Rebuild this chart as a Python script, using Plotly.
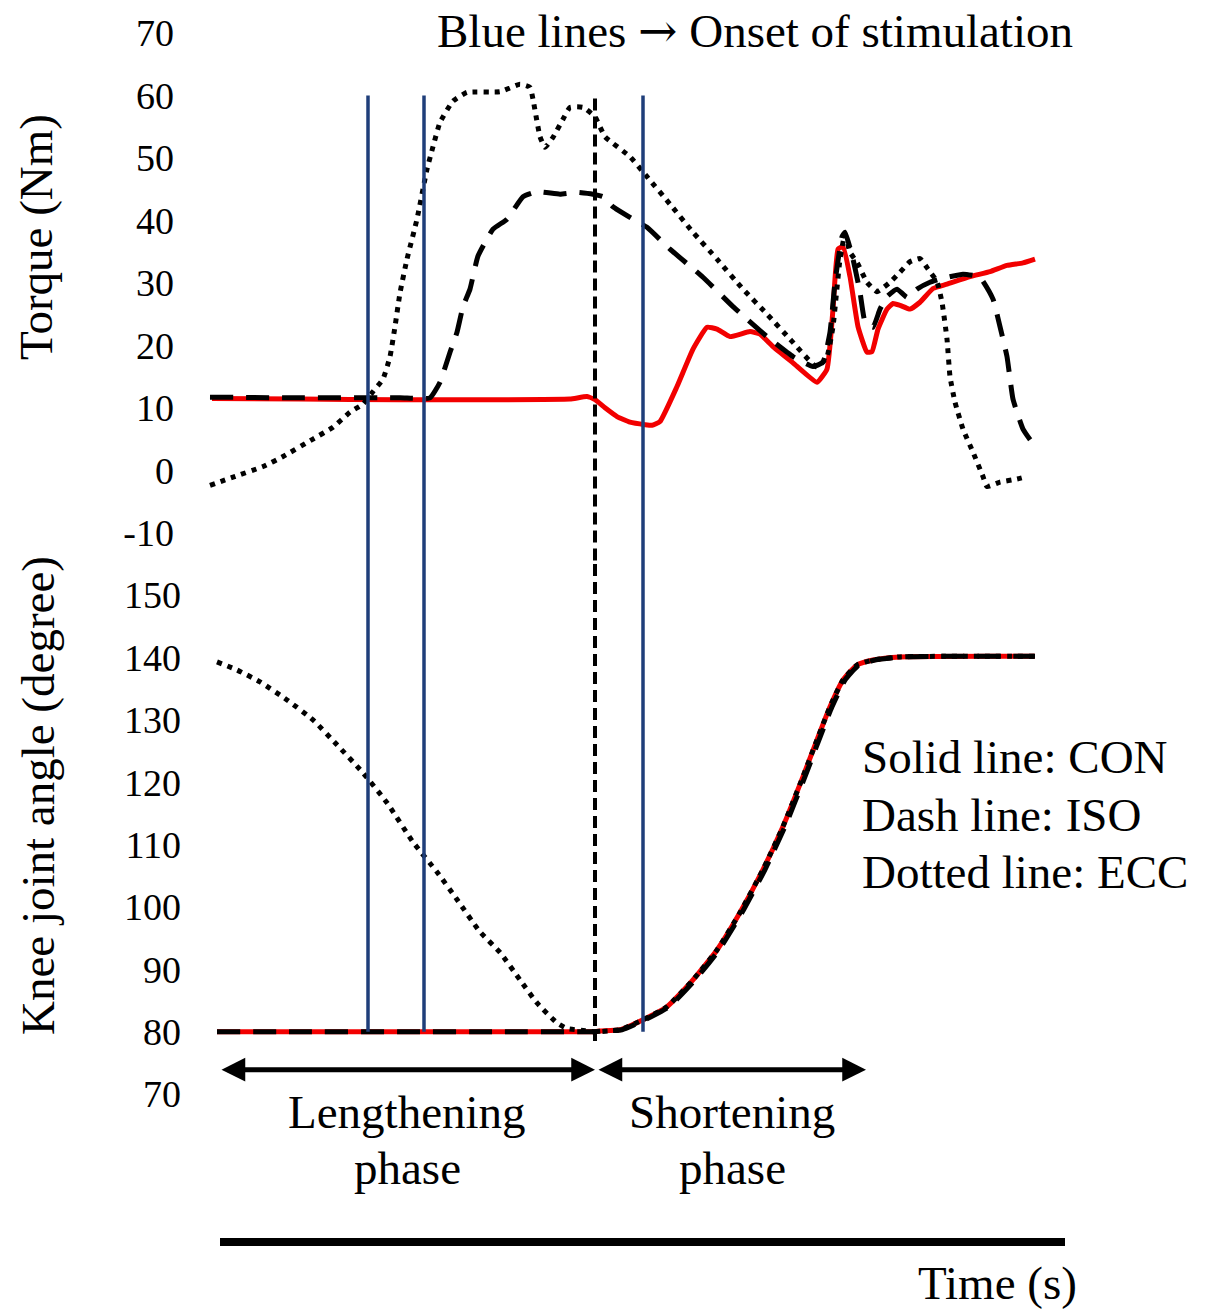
import plotly.graph_objects as go

# ---------------- data (time in s, torque in Nm, angle in degrees) ----------------
t_torque_con = [0.12, 1.0, 2.0, 3.0, 3.7, 3.87, 3.95, 4.05, 4.17, 4.30, 4.45, 4.52, 4.60,
                4.77, 4.93, 5.07, 5.17, 5.30, 5.50, 5.60, 5.73, 5.93, 6.17, 6.27, 6.33,
                6.38, 6.43, 6.50, 6.58, 6.67, 6.72, 6.78, 6.87, 6.93, 7.00, 7.10, 7.20,
                7.33, 7.47, 7.70, 7.90, 8.07, 8.23, 8.35]
torque_con = [11.5, 11.4, 11.3, 11.3, 11.4, 11.8, 11.3, 10.0, 8.6, 7.7, 7.3, 7.2, 7.8,
              13.4, 19.4, 22.9, 22.6, 21.4, 22.2, 21.8, 19.8, 17.2, 14.1, 16.2, 25.8,
              35.4, 35.8, 31.0, 23.0, 18.9, 19.0, 22.6, 25.8, 26.7, 26.4, 25.8, 26.9,
              29.1, 29.8, 31.0, 31.8, 32.8, 33.2, 33.8]

t_torque_iso = [0.10, 1.0, 2.0, 2.30, 2.40, 2.50, 2.57, 2.63, 2.70, 2.78, 2.93, 3.07, 3.23,
                3.37, 3.60, 3.77, 3.93, 4.03, 4.13, 4.33, 4.47, 4.70, 5.03, 5.33, 5.67,
                5.93, 6.13, 6.23, 6.30, 6.35, 6.42, 6.45, 6.53, 6.60, 6.65, 6.73, 6.80,
                6.87, 6.97, 7.07, 7.17, 7.30, 7.40, 7.63, 7.80, 7.93, 8.00, 8.07, 8.13,
                8.23, 8.35]
torque_iso = [11.7, 11.6, 11.6, 11.6, 14.1, 18.9, 22.1, 26.2, 29.0, 34.3, 38.6, 40.2, 43.8,
              44.6, 44.2, 44.5, 44.2, 43.8, 42.2, 40.2, 38.9, 35.4, 30.9, 26.2, 21.4,
              18.2, 16.6, 17.3, 22.1, 30.1, 37.4, 38.1, 33.8, 28.5, 23.8, 22.9, 25.8,
              27.8, 29.0, 27.7, 29.0, 30.1, 30.6, 31.4, 30.9, 27.4, 23.0, 18.2, 11.4,
              6.6, 3.8]

t_torque_ecc = [0.10, 0.33, 0.63, 0.83, 1.13, 1.33, 1.50, 1.63, 1.73, 1.83, 1.90, 1.95,
                2.00, 2.07, 2.17, 2.27, 2.33, 2.40, 2.53, 2.67, 3.00, 3.20, 3.30, 3.33,
                3.40, 3.45, 3.53, 3.63, 3.70, 3.83, 3.95, 4.05, 4.30, 4.47, 4.70, 4.93,
                5.17, 5.43, 5.67, 5.90, 6.17, 6.27, 6.33, 6.40, 6.45, 6.50, 6.57, 6.67,
                6.77, 6.90, 7.00, 7.10, 7.20, 7.28, 7.37, 7.42, 7.47, 7.50, 7.55, 7.63,
                7.73, 7.83, 7.87, 8.00, 8.17, 8.27]
torque_ecc = [-2.4, -1.1, 0.6, 2.2, 5.0, 6.9, 9.3, 10.6, 12.6, 14.6, 18.2, 23.0,
              28.4, 33.8, 40.2, 48.2, 51.8, 55.7, 59.1, 60.5, 60.6, 61.8, 61.3, 59.4,
              53.4, 51.7, 53.3, 56.2, 58.1, 58.1, 56.6, 53.4, 50.2, 47.0, 42.6, 38.1,
              33.8, 29.0, 25.0, 21.0, 16.5, 18.2, 23.0, 33.8, 37.8, 34.9, 33.3, 30.1,
              28.6, 30.1, 31.7, 33.4, 33.9, 32.2, 30.2, 26.9, 21.0, 15.0, 10.9, 6.6,
              2.9, -1.0, -2.6, -1.9, -1.4, -1.0]

t_angle_con = [0.17, 1.0, 2.0, 3.0, 3.95, 4.00, 4.20, 4.43, 4.67, 4.93, 5.17, 5.40, 5.63,
               5.83, 6.03, 6.17, 6.30, 6.43, 6.57, 6.73, 7.00, 8.35]
angle_con = [80.0, 80.0, 80.0, 80.0, 80.0, 80.1, 80.3, 81.9, 84.0, 88.3, 93.1, 99.1, 106.0,
             112.9, 120.9, 126.8, 132.1, 136.4, 138.8, 139.6, 140.1, 140.2]

t_angle_iso = [0.17, 1.0, 2.0, 3.0, 3.95, 4.02, 4.22, 4.45, 4.69, 4.95, 5.19, 5.42, 5.65,
               5.85, 6.05, 6.19, 6.32, 6.45, 6.59, 6.75, 7.02, 8.35]
angle_iso = [80.0, 80.0, 80.0, 80.0, 80.0, 80.1, 80.3, 81.9, 84.0, 88.3, 93.1, 99.1, 106.0,
             112.9, 120.9, 126.8, 132.1, 136.4, 138.8, 139.6, 140.1, 140.2]

t_angle_ecc = [0.17, 0.37, 0.60, 0.87, 1.13, 1.37, 1.63, 1.87, 2.13, 2.37, 2.57, 2.80,
               3.00, 3.20, 3.37, 3.57, 3.67, 3.83, 3.95, 4.20, 4.43, 4.67, 4.93, 5.17,
               5.40, 5.63, 5.83, 6.03, 6.17, 6.30, 6.43, 6.57, 6.73, 7.00, 8.35]
angle_ecc = [139.3, 138.0, 136.1, 133.2, 130.0, 126.0, 121.5, 116.7, 110.4, 105.6, 101.2,
             96.0, 92.7, 88.3, 84.6, 81.4, 80.5, 80.2, 80.0, 80.3, 81.9, 84.0, 88.3,
             93.1, 99.1, 106.0, 112.9, 120.9, 126.8, 132.1, 136.4, 138.8, 139.6, 140.1,
             140.2]

stim_onsets = [1.68, 2.24, 4.43]          # blue lines
phase_switch = 3.95                        # end of lengthening phase
lengthening_phase = [0.20, 3.95]
shortening_phase = [3.97, 6.66]

torque_ticks = [70, 60, 50, 40, 30, 20, 10, 0, -10]
angle_ticks = [150, 140, 130, 120, 110, 100, 90, 80, 70]

# ---------------- styling ----------------
W, H = 1212, 1314
FONT = "Liberation Serif, Times New Roman, serif"
RED = "#f20000"
BLUE = "#1f3e7a"
BLACK = "#000000"
TXT = 47


def px(p):
    return p / W


def py(p):
    return 1 - p / H


fig = go.Figure()

solid = dict(color=RED, width=5)
dashed = dict(color=BLACK, width=5, dash="23px,13px")
dotted = dict(color=BLACK, width=5, dash="5px,6px")

fig.add_trace(go.Scatter(x=t_torque_con, y=torque_con, mode="lines",
                         line=dict(solid, shape="spline", smoothing=0.4),
                         xaxis="x", yaxis="y", name="CON"))
fig.add_trace(go.Scatter(x=t_torque_iso, y=torque_iso, mode="lines",
                         line=dict(dashed, shape="spline", smoothing=0.4),
                         xaxis="x", yaxis="y", name="ISO"))
fig.add_trace(go.Scatter(x=t_torque_ecc, y=torque_ecc, mode="lines",
                         line=dict(dotted, shape="spline", smoothing=0.4),
                         xaxis="x", yaxis="y", name="ECC"))

fig.add_trace(go.Scatter(x=t_angle_con, y=angle_con, mode="lines",
                         line=dict(solid, shape="spline", smoothing=0.5),
                         xaxis="x", yaxis="y2", name="CON"))
fig.add_trace(go.Scatter(x=t_angle_iso, y=angle_iso, mode="lines",
                         line=dict(dashed, shape="spline", smoothing=0.5),
                         xaxis="x", yaxis="y2", name="ISO"))
fig.add_trace(go.Scatter(x=t_angle_ecc, y=angle_ecc, mode="lines",
                         line=dict(dotted, shape="spline", smoothing=0.5),
                         xaxis="x", yaxis="y2", name="ECC"))

shapes = []
for t in stim_onsets:
    shapes.append(dict(type="line", xref="x", yref="y", x0=t, x1=t, y0=60, y1=-15,
                       line=dict(color=BLUE, width=3.5), layer="above"))
    shapes.append(dict(type="line", xref="x", yref="y2", x0=t, x1=t, y0=155, y1=80,
                       line=dict(color=BLUE, width=3.5), layer="above"))
shapes.append(dict(type="line", xref="x", yref="y", x0=phase_switch, x1=phase_switch,
                   y0=59.5, y1=-15, line=dict(color=BLACK, width=4, dash="12px,6px"),
                   layer="above"))
shapes.append(dict(type="line", xref="x", yref="y2", x0=phase_switch, x1=phase_switch,
                   y0=155, y1=78.5, line=dict(color=BLACK, width=4, dash="12px,6px"),
                   layer="above"))
# time base line
shapes.append(dict(type="line", xref="paper", yref="paper", x0=px(220), x1=px(1065),
                   y0=py(1242), y1=py(1242), line=dict(color=BLACK, width=8)))

annotations = []
# phase arrows
for a, b in (lengthening_phase, shortening_phase):
    annotations.append(dict(x=b, y=73.9, ax=a, ay=73.9, xref="x", yref="y2",
                            axref="x", ayref="y2", text="", showarrow=True,
                            arrowside="end+start", arrowhead=2, startarrowhead=2,
                            arrowsize=0.95, startarrowsize=0.95, arrowwidth=5,
                            arrowcolor=BLACK, standoff=0, startstandoff=0))

font = dict(family=FONT, size=TXT, color=BLACK)


def txt(text, x, y, xanchor="center", yanchor="middle", angle=0, size=TXT):
    annotations.append(dict(text=text, x=px(x), y=py(y), xref="paper", yref="paper",
                            xanchor=xanchor, yanchor=yanchor, showarrow=False,
                            textangle=angle, font=dict(font, size=size)))


txt("Blue lines <span style='font-family:DejaVu Serif'>\u2192</span>"
    " Onset of stimulation", 755, 31)
txt("Torque (Nm)", 36, 237, angle=-90)
txt("Knee joint angle (degree)", 38, 796, angle=-90)
txt("Solid line: CON", 860, 757, xanchor="left")
txt("Dash line: ISO", 860, 815, xanchor="left")
txt("Dotted line: ECC", 860, 872, xanchor="left")
txt("Lengthening", 407, 1112)
txt("phase", 407, 1168)
txt("Shortening", 732, 1112)
txt("phase", 732, 1168)
txt("Time (s)", 1079, 1283, xanchor="right")

fig.update_layout(
    width=W, height=H,
    margin=dict(l=0, r=0, t=0, b=0),
    paper_bgcolor="white", plot_bgcolor="white",
    showlegend=False,
    font=dict(family=FONT, color=BLACK),
    xaxis=dict(domain=[px(200), px(1070)], range=[0, 8.7], visible=False,
               anchor="y2", fixedrange=True),
    yaxis=dict(domain=[py(564), py(33)], range=[-15, 70], anchor="x",
               tickvals=torque_ticks, ticktext=[str(v) for v in torque_ticks],
               tickfont=dict(family=FONT, size=38, color=BLACK),
               showgrid=False, zeroline=False, showline=False, ticks="",
               ticklabelstandoff=25, automargin=False),
    yaxis2=dict(domain=[py(1094), py(564)], range=[70, 155], anchor="x",
                tickvals=angle_ticks, ticktext=[str(v) for v in angle_ticks],
                tickfont=dict(family=FONT, size=38, color=BLACK),
                showgrid=False, zeroline=False, showline=False, ticks="",
                ticklabelstandoff=18, automargin=False),
    shapes=shapes,
    annotations=annotations,
)

fig.write_html("out.html", post_script="document.body.style.margin='0';",
               config={"displayModeBar": False})
